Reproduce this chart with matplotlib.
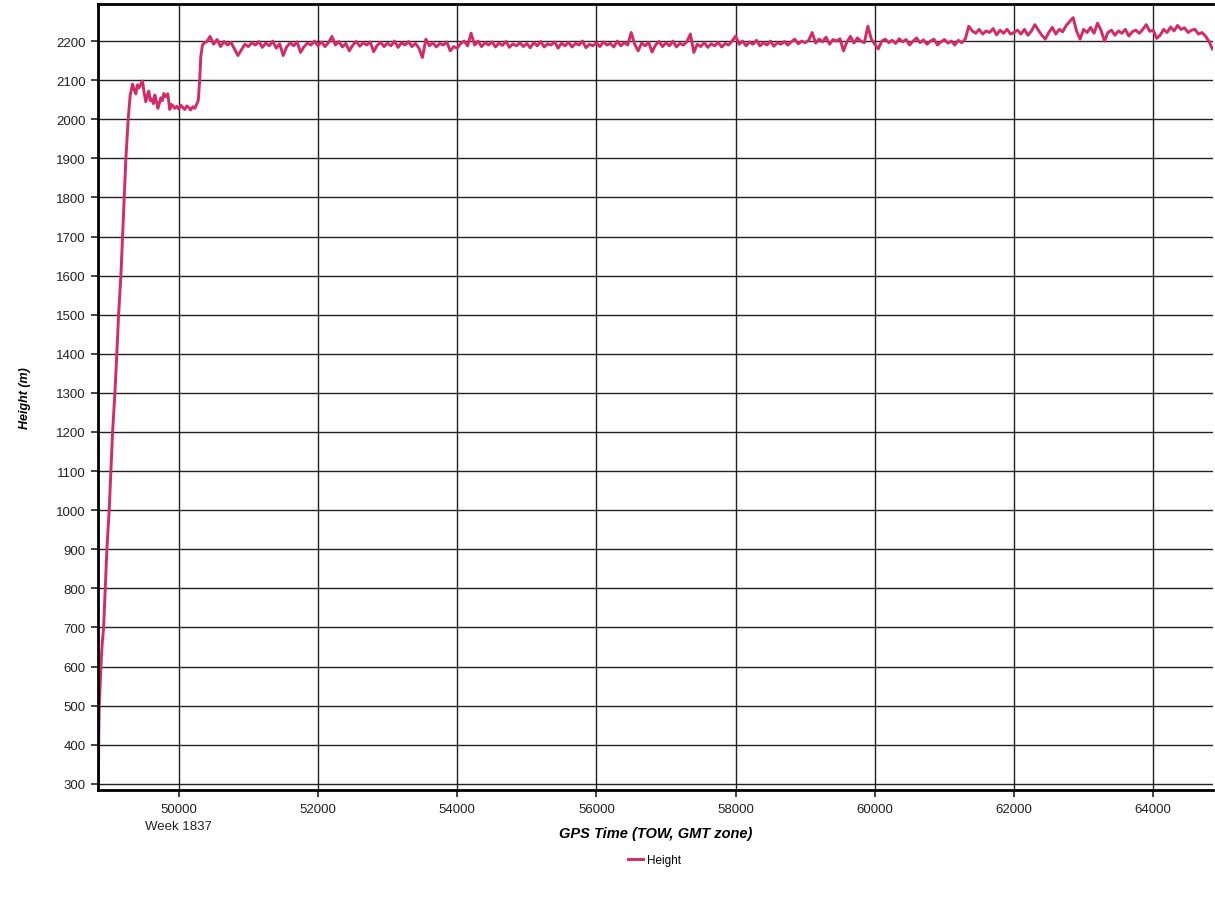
import numpy as np
import matplotlib.pyplot as plt
from matplotlib.transforms import blended_transform_factory

# ---------------------------
# Data
# ---------------------------

# climb and first plateau (irregular times)
climb_tow = [48845, 48850, 48857, 48870, 48881, 48900, 48920, 48943, 48967, 49000,
             49024, 49049, 49082, 49110, 49135, 49168, 49192, 49215, 49240, 49273,
             49301, 49335, 49360, 49383, 49405, 49426, 49455, 49479, 49500, 49526,
             49550, 49569, 49590, 49613, 49635, 49656, 49680, 49699, 49720, 49742,
             49765, 49785, 49810, 49842, 49860, 49871, 49890, 49914, 49940, 49971,
             50000, 50029, 50060, 50086, 50115, 50143, 50170, 50201, 50230, 50260,
             50280, 50300, 50316, 50340, 50370]
climb_h = [300, 420, 500, 550, 600, 660, 700, 800, 900, 1000,
           1100, 1200, 1300, 1400, 1500, 1600, 1700, 1800, 1900, 2000,
           2060, 2090, 2075, 2065, 2088, 2080, 2090, 2098, 2070, 2045,
           2062, 2072, 2048, 2052, 2040, 2062, 2045, 2028, 2040, 2055,
           2048, 2066, 2058, 2065, 2040, 2025, 2038, 2035, 2028, 2033,
           2026, 2036, 2030, 2025, 2034, 2030, 2024, 2032, 2028, 2040,
           2048, 2100, 2160, 2190, 2196]

# main plateau, one value every 50 s starting at 50400
plateau_start = 50400
plateau_step = 50
plateau_h = [
    # 50400 - 50950
    2198, 2212, 2192, 2204, 2186, 2199, 2190, 2197, 2180, 2163, 2178, 2192,
    # 51000 - 51950
    2186, 2196, 2190, 2199, 2184, 2195, 2188, 2200, 2182, 2193, 2163, 2185, 2196, 2188, 2198, 2171, 2186, 2195, 2190, 2200,
    # 52000 - 52950
    2188, 2198, 2186, 2196, 2212, 2190, 2199, 2185, 2194, 2175, 2190, 2199, 2187, 2196, 2190, 2198, 2173, 2189, 2197, 2186,
    # 53000 - 53950
    2195, 2188, 2200, 2184, 2196, 2190, 2199, 2186, 2194, 2182, 2158, 2205, 2188, 2196, 2185, 2194, 2190, 2198, 2175, 2186,
    # 54000 - 54950
    2182, 2194, 2200, 2188, 2220, 2190, 2200, 2186, 2196, 2190, 2198, 2185, 2195, 2189, 2199, 2184, 2193, 2188, 2196, 2186,
    # 55000 - 55950
    2194, 2183, 2196, 2188, 2199, 2185, 2193, 2190, 2198, 2182, 2195, 2188, 2197, 2185, 2194, 2190, 2200, 2183, 2192, 2188,
    # 56000 - 56950
    2196, 2186, 2198, 2190, 2194, 2185, 2200, 2188, 2196, 2190, 2222, 2192, 2175, 2195, 2188, 2197, 2172, 2190, 2199, 2186,
    # 57000 - 57950
    2196, 2188, 2200, 2185, 2194, 2190, 2198, 2218, 2171, 2192, 2186, 2196, 2184, 2193, 2188, 2197, 2185, 2194, 2190, 2200,
    # 58000 - 58950
    2213, 2192, 2200, 2188, 2198, 2192, 2202, 2188, 2196, 2190, 2200, 2187, 2196, 2192, 2199, 2190, 2198, 2205, 2193, 2200,
    # 59000 - 59950
    2196, 2202, 2222, 2195, 2205, 2198, 2210, 2192, 2204, 2200, 2206, 2175, 2198, 2212, 2195, 2208, 2200, 2196, 2238, 2205,
    # 60000 - 60950
    2192, 2180, 2200, 2205, 2196, 2202, 2194, 2206, 2198, 2204, 2190, 2200, 2208, 2196, 2203, 2192, 2200, 2205, 2190, 2198,
    # 61000 - 61950
    2204, 2195, 2200, 2190, 2202, 2196, 2205, 2238, 2226, 2220, 2230, 2218, 2226, 2222, 2232, 2216, 2228, 2220, 2230, 2218,
    # 62000 - 62950
    2222, 2228, 2218, 2230, 2215, 2226, 2242, 2228, 2215, 2205, 2222, 2235, 2218, 2230, 2224, 2240, 2250, 2260, 2225, 2205,
    # 63000 - 63950
    2230, 2222, 2235, 2220, 2246, 2228, 2200, 2222, 2228, 2215, 2226, 2220, 2230, 2213, 2224, 2228, 2220, 2230, 2242, 2225,
    # 64000 - 64850
    2228, 2207, 2215, 2230, 2222, 2236, 2226, 2240, 2230, 2234, 2222, 2228, 2230, 2218, 2222, 2213, 2200, 2180,
]

x_ticks = [50000, 52000, 54000, 56000, 58000, 60000, 62000, 64000]
y_ticks = list(range(300, 2201, 100))

plateau_tow = plateau_start + plateau_step * np.arange(len(plateau_h))
tow = np.concatenate([climb_tow, plateau_tow])
height = np.concatenate([climb_h, plateau_h])

# ---------------------------
# Plot
# ---------------------------

plt.rcParams['font.family'] = ['Liberation Sans', 'DejaVu Sans']

fig = plt.figure(figsize=(12.15, 9.03), dpi=100)
ax = fig.add_axes([0.0807, 0.124, 0.9177, 0.8705])

line, = ax.plot(tow, height, color='#d42a68', lw=2.1, label='Height')

ax.set_xlim(48840, 64860)
ax.set_ylim(284, 2295)
ax.set_xticks(x_ticks)
ax.set_yticks(y_ticks)
ax.tick_params(axis='both', labelsize=9.5, colors='#222222', length=5, width=1.2,
               direction='out', pad=4)
ax.grid(True, color='#222222', lw=1.0)
ax.set_axisbelow(True)

for side in ['left', 'top', 'bottom']:
    ax.spines[side].set_linewidth(2.0)
    ax.spines[side].set_color('black')
ax.spines['right'].set_visible(False)

# week label under the first tick
trans = blended_transform_factory(ax.transData, ax.transAxes)
ax.text(50000, -0.038, 'Week 1837', transform=trans, ha='center', va='top',
        fontsize=9.5, color='#222222')

ax.set_ylabel('Height (m)', fontsize=9, fontweight='bold', style='italic',
              labelpad=18)
ax.set_xlabel('GPS Time (TOW, GMT zone)', fontsize=10.5, fontweight='bold',
              style='italic', labelpad=8)

fig.legend(handles=[line], loc='center', bbox_to_anchor=(0.539, 0.046),
           frameon=False, fontsize=8.5, handlelength=1.2, handletextpad=0.4)

plt.savefig('out.png', dpi=100)
